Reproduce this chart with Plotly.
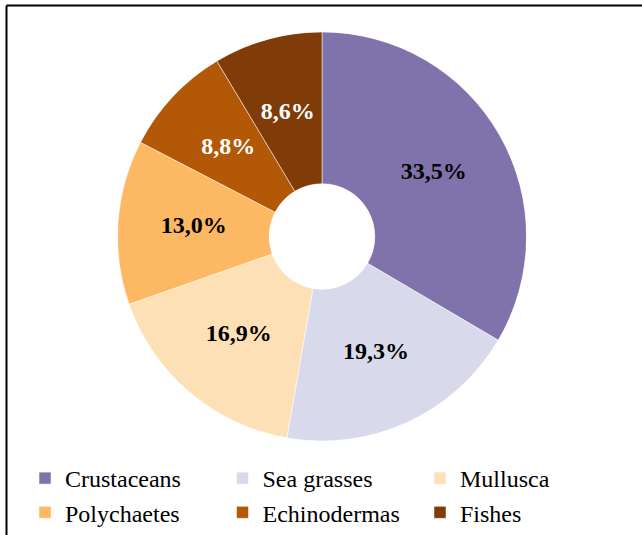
import plotly.graph_objects as go

categories = ["Crustaceans", "Sea grasses", "Mullusca", "Polychaetes", "Echinodermas", "Fishes"]
values = [33.5, 19.3, 16.9, 13.0, 8.8, 8.6]
colors = ["#8073AC", "#D8DAEB", "#FEE0B6", "#FDB863", "#B35806", "#7F3B08"]
text_colors = ["black", "black", "black", "black", "white", "white"]

W, H = 642, 535
FONT = "Liberation Serif"

total = sum(values)
widths = [v / total * 360 for v in values]
mids = []
acc = 0.0
for w in widths:
    mids.append(acc + w / 2)
    acc += w

fig = go.Figure()
for name, w, m, c in zip(categories, widths, mids, colors):
    fig.add_trace(go.Barpolar(
        name=name,
        r=[1], theta=[m], width=[w],
        marker=dict(color=c, line=dict(color="white", width=0.5)),
        hoverinfo="name",
    ))

fig.add_trace(go.Scatterpolar(
    r=[0.5] * len(values), theta=mids,
    mode="text",
    customdata=values,
    texttemplate="<b>%{customdata:.1f}%</b>",
    textposition="middle center",
    textfont=dict(family=FONT, size=24, color=text_colors),
    showlegend=False,
    hoverinfo="skip",
))

fig.update_layout(
    width=W, height=H,
    margin=dict(l=0, r=0, t=0, b=0),
    paper_bgcolor="white",
    plot_bgcolor="white",
    separators=",.",
    showlegend=True,
    polar=dict(
        domain=dict(x=[117.5 / W, 526.5 / W], y=[1 - 441 / H, 1 - 32 / H]),
        hole=0.258,
        bgcolor="rgba(0,0,0,0)",
        bargap=0,
        radialaxis=dict(range=[0, 1], visible=False, showgrid=False),
        angularaxis=dict(rotation=90, direction="clockwise", visible=False, showgrid=False),
    ),
    legend=dict(
        orientation="h",
        x=25 / W, y=1 - 456 / H,
        xanchor="left", yanchor="top",
        entrywidth=152.5, entrywidthmode="pixels",
        font=dict(family=FONT, size=24, color="black"),
        itemwidth=30,
        tracegroupgap=0,
        bgcolor="rgba(0,0,0,0)",
    ),
    shapes=[
        dict(type="line", xref="paper", yref="paper", x0=6.5 / W, x1=1.01, y0=1 - 5.5 / H, y1=1 - 5.5 / H,
             line=dict(color="black", width=2)),
        dict(type="line", xref="paper", yref="paper", x0=6.5 / W, x1=6.5 / W, y0=-0.01, y1=1 - 5.5 / H,
             line=dict(color="black", width=2)),
    ],
)

fig.write_html("out.html")
